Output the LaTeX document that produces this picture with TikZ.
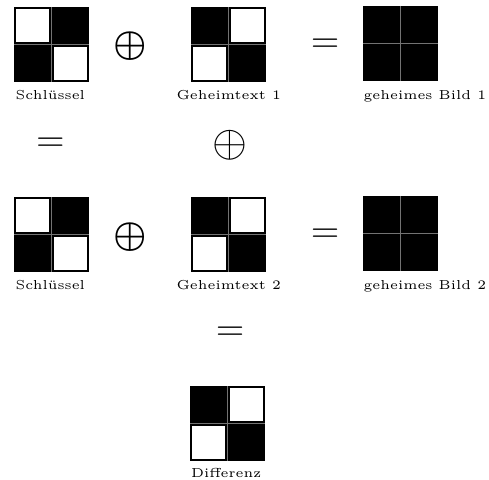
\documentclass[tikz,border=0pt]{standalone}
\tikzset{
  lbl/.style={inner sep=0pt, anchor=base west, font=\fontsize{5}{6}\selectfont},
  op/.style={inner sep=0pt, font=\fontsize{16.5}{18}\selectfont},
  bop/.style={inner sep=0pt, font=\fontsize{13.5}{15}\selectfont\boldmath},
  eq/.style={inner sep=0pt, font=\fontsize{14.4}{16}\selectfont},
  gridline/.style={draw=black!55, line width=0.4pt},
}
% #1,#2: top-left corner in px; #3..#6: 1 = white cell (TL, TR, BL, BR)
\newcommand{\blocksq}[6]{%
  \fill[black] (#1,#2) rectangle ++(75,75);
  \ifnum#3=1 \fill[white] (#1+2.2,#2+2.2) rectangle ++(33.2,33.2);\fi
  \ifnum#4=1 \fill[white] (#1+39.6,#2+2.2) rectangle ++(33.2,33.2);\fi
  \ifnum#5=1 \fill[white] (#1+2.2,#2+39.6) rectangle ++(33.2,33.2);\fi
  \ifnum#6=1 \fill[white] (#1+39.6,#2+39.6) rectangle ++(33.2,33.2);\fi
  \draw[gridline] (#1+37.5,#2) -- ++(0,75) (#1,#2+37.5) -- ++(75,0);
}
\begin{document}
\begin{tikzpicture}[x=0.384615pt, y=-0.384615pt]
\useasboundingbox (0,0) rectangle (489,479);
% row 1
\blocksq{14}{7}{1}{0}{0}{1}
\blocksq{191}{7}{0}{1}{1}{0}
\blocksq{363}{6}{0}{0}{0}{0}
\node[lbl] (k1) at (15,99.5) {Schlüssel};
\node[lbl] (g1) at (176,99.5) {Geheimtext 1};
\node[lbl] (b1) at (363,99.5) {geheimes Bild 1};
\node[bop] (o1) at (130.5,46) {$\oplus$};
\node[eq] (e1) at (325,46) {$=$};
% middle
\node[eq] (e2) at (50.5,145) {$=$};
\node[op] (o2) at (230,145) {$\oplus$};
% row 2
\blocksq{14}{197}{1}{0}{0}{1}
\blocksq{191}{197}{0}{1}{1}{0}
\blocksq{363}{196}{0}{0}{0}{0}
\node[lbl] (k2) at (15,289) {Schlüssel};
\node[lbl] (g2) at (176,289) {Geheimtext 2};
\node[lbl] (b2) at (363,289) {geheimes Bild 2};
\node[bop] (o3) at (130.5,237) {$\oplus$};
\node[eq] (e3) at (325,236) {$=$};
% bottom
\node[eq] (e4) at (230,334) {$=$};
\blocksq{190}{386}{0}{1}{1}{0}
\node[lbl] (d) at (190.5,477) {Differenz};
\end{tikzpicture}
\end{document}
